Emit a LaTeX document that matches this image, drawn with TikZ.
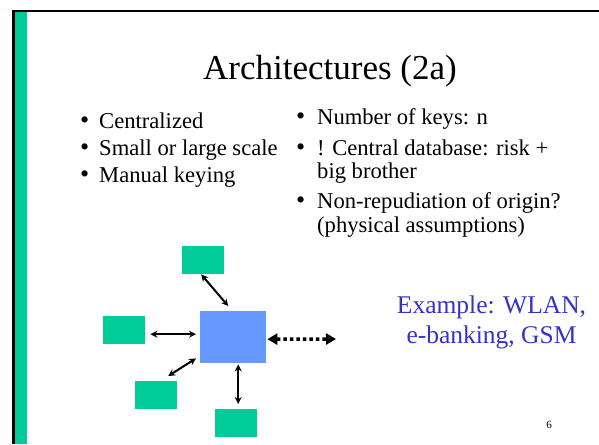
\documentclass[tikz,border=0pt]{standalone}
\usepackage{fontspec}
\setmainfont{Liberation Serif}
\usetikzlibrary{arrows.meta,calc}
\definecolor{sgreen}{RGB}{0,204,153}
\definecolor{sblue}{RGB}{102,153,255}
\definecolor{stext}{RGB}{51,51,204}
\begin{document}
\begin{tikzpicture}[x=1pt,y=-1pt,
  gbox/.style={fill=sgreen, draw=none, minimum width=42pt, minimum height=28pt, inner sep=0pt, anchor=north west},
  hubbox/.style={fill=sblue, draw=none, minimum width=66pt, minimum height=52pt, inner sep=0pt, anchor=north west},
  btxt/.style={anchor=base west, inner sep=0pt, font=\fontsize{22.6}{27}\selectfont},
  bul/.style={anchor=base west, inner sep=0pt, font=\fontsize{26}{27}\selectfont},
  link/.style={line width=2pt, {Stealth[length=7pt,width=7pt]}-{Stealth[length=7pt,width=7pt]}},
  dlink/.style={line width=3.5pt, dash pattern=on 3.5pt off 3pt, {Triangle[length=10pt,width=11pt]}-{Triangle[length=10pt,width=11pt]}}
]
\useasboundingbox (0,0) rectangle (599,444);
\fill[white] (0,0) rectangle (599,444);
% frame
\fill[black] (12,10) rectangle (599,12.5);
\fill[black] (12,10) rectangle (15,444);
\fill[sgreen] (15,12.5) rectangle (27,444);
% title
\node[anchor=base, inner sep=0pt, font=\fontsize{35}{40}\selectfont] (title) at (330,79) {Architectures (2a)};
% left bullets
\node[bul] (b1) at (80,128) {\textbullet};
\node[btxt] (t1) at (99,128) {Centralized};
\node[bul] (b2) at (80,155) {\textbullet};
\node[btxt] (t2) at (99,155) {Small or large scale};
\node[bul] (b3) at (80,182) {\textbullet};
\node[btxt] (t3) at (99,182) {Manual keying};
% right bullets
\node[bul] (b4) at (296,124) {\textbullet};
\node[btxt] (t4) at (317,124) {Number of keys: n};
\node[bul] (b5) at (296,155) {\textbullet};
\node[btxt] (t5) at (317,155) {! Central database: risk +};
\node[btxt] (t5b) at (317,178) {big brother};
\node[bul] (b6) at (296,208) {\textbullet};
\node[btxt] (t6) at (317,208) {Non-repudiation of origin?};
\node[btxt] (t6b) at (317,232) {(physical assumptions)};
% example
\node[anchor=base, inner sep=0pt, text=stext, font=\fontsize{25.5}{30}\selectfont] (ex1) at (491.5,313) {Example: WLAN,};
\node[anchor=base, inner sep=0pt, text=stext, font=\fontsize{25.5}{30}\selectfont] (ex2) at (491.5,343) {e-banking, GSM};
% page number
\node[anchor=base, inner sep=0pt, font=\fontsize{11}{13}\selectfont] (pg) at (549,428) {6};
% diagram
\node[gbox] (n1) at (182,246) {};
\node[gbox] (n2) at (103,316) {};
\node[gbox] (n3) at (135,381) {};
\node[gbox] (n4) at (215,409) {};
\node[hubbox] (hub) at (200,311) {};
\coordinate (ext) at (336,339);
\draw[link] ($(n1.south)+(-2,0)$) -- ($(hub.north)+(-5,-5)$);
\draw[link] ($(n2.east)+(5,4)$) -- ($(hub.west)+(-4,-3)$);
\draw[link] ($(n3.north)+(12,-5)$) -- ($(hub.south west)+(-4,-5)$);
\draw[link] ($(hub.south)+(5,1)$) -- ($(n4.north)+(2,-5)$);
\draw[dlink] ($(hub.east)+(1,2)$) -- (ext);
\end{tikzpicture}
\end{document}
